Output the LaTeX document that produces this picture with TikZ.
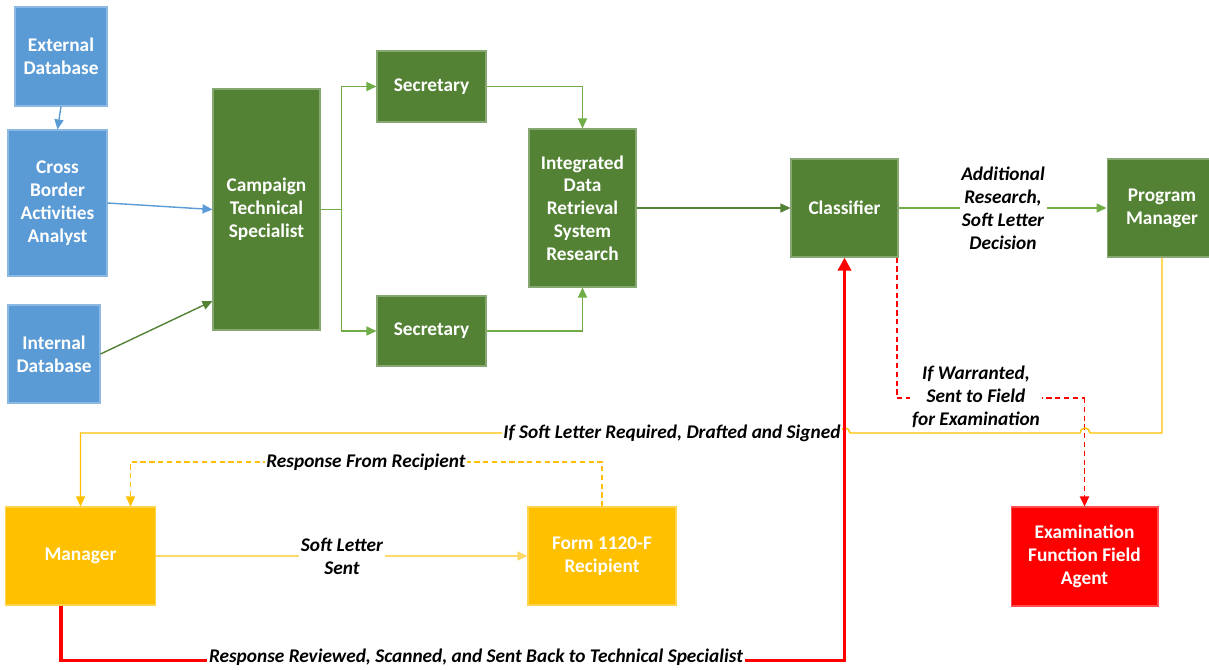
\documentclass[tikz,border=0pt]{standalone}
\usepackage{fontspec}
\setmainfont{Carlito}
\usetikzlibrary{arrows.meta,calc}
\definecolor{cblue}{HTML}{5B9BD5}
\definecolor{cdgreen}{HTML}{548235}
\definecolor{clgreen}{HTML}{70AD47}
\definecolor{cyellow}{HTML}{FFC000}
\definecolor{clyellow}{HTML}{FFD966}
\definecolor{cred}{HTML}{FF0000}
\tikzset{
  box/.style={draw=#1!70!white, fill=#1, line width=0.6pt, text=white, align=center,
    font=\fontsize{11}{13}\selectfont\bfseries, inner sep=2pt},
  lbl/.style={fill=white, align=center, inner sep=1pt,
    font=\fontsize{11}{13}\selectfont\bfseries\itshape},
  tip/.style={-{Triangle[length=0.2cm,width=0.18cm]}},
  conn/.style={color=#1, line width=0.8pt},
  reddash/.style={color=cred, line width=1.1pt, dash pattern=on 3pt off 2pt},
}
\begin{document}
\begin{tikzpicture}[x=0.02cm,y=-0.02cm]
\useasboundingbox (0,0) rectangle (1209,669);
\clip (0,0) rectangle (1209,669);
% nodes
\node[box=cblue, minimum width=1.84cm, minimum height=1.98cm] (ext) at (61,56.5) {External\\Database};
\node[box=cblue, minimum width=1.98cm, minimum height=2.92cm] (cba) at (57.5,203) {Cross\\Border\\Activities\\Analyst};
\node[box=cblue, minimum width=1.84cm, minimum height=1.96cm] (intdb) at (54,354) {Internal\\Database};
\node[box=cdgreen, minimum width=2.14cm, minimum height=4.82cm] (cts) at (266.5,209.5) {Campaign\\Technical\\Specialist};
\node[box=cdgreen, minimum width=2.18cm, minimum height=1.42cm] (sec1) at (431.5,86.5) {Secretary};
\node[box=cdgreen, minimum width=2.18cm, minimum height=1.40cm] (sec2) at (431.5,331) {Secretary};
\node[box=cdgreen, minimum width=2.14cm, minimum height=3.16cm] (idrs) at (582.5,208) {Integrated\\Data\\Retrieval\\System\\Research};
\node[box=cdgreen, minimum width=2.14cm, minimum height=1.96cm] (cls) at (844.5,208) {Classifier};
\node[box=cdgreen, minimum width=2.20cm, minimum height=1.96cm] (pm) at (1162,208) {Program\\Manager};
\node[box=cyellow, minimum width=3.00cm, minimum height=1.96cm] (mgr) at (80.5,556) {Manager};
\node[box=cyellow, minimum width=2.96cm, minimum height=1.96cm] (form) at (602,556) {Form 1120-F\\Recipient};
\node[box=cred, minimum width=2.94cm, minimum height=1.98cm] (exam) at (1084.5,556.5) {Examination\\Function Field\\Agent};
% blue connectors
\draw[conn=cblue, tip] (ext.south) -- (cba.north);
\draw[conn=cblue, tip] (cba.east) -- (cts.west);
\draw[conn=cdgreen, tip] (intdb.east) -- ([yshift=-1.83cm]cts.west);
% green branch
\draw[conn=clgreen] (cts.east) -- ++(21,0) coordinate (br);
\draw[conn=clgreen, tip] (br) |- (sec1.west);
\draw[conn=clgreen, tip] (br) |- (sec2.west);
\draw[conn=clgreen, tip] (sec1.east) -| (idrs.north);
\draw[conn=clgreen, tip] (sec2.east) -| (idrs.south);
\draw[conn=cdgreen, tip] (idrs.east) -- (cls.west);
\draw[conn=clgreen, tip] (cls.east) -- (pm.west);
\node[lbl] (lbladd) at (1003,208.5) {Additional\\Research,\\Soft Letter\\Decision};
% red dashed
\coordinate (rs) at ([xshift=-0.03cm]cls.south east);
\coordinate (rd) at ($(rs)+(0,140.5)$);
\draw[reddash] (rs) -- (rd);
\draw[reddash] (rd) -- (rd -| exam.north);
\draw[reddash, tip] (rd -| exam.north) -- (exam.north);
\node[lbl] (lblwar) at (976,397) {If Warranted,\\Sent to Field\\for Examination};
% yellow from program manager
\draw[conn=cyellow, tip] (pm.south) -- (1162,433) -- (1090,433)
   arc[start angle=0,end angle=180,radius=0.1cm] -- (850,433)
   arc[start angle=0,end angle=180,radius=0.1cm] -- (mgr.north |- 0,433) -- (mgr.north);
\node[lbl] (lblsoft) at (672,433) {If Soft Letter Required, Drafted and Signed};
% response from recipient
\draw[conn=cyellow, dash pattern=on 3pt off 2pt, tip] (form.north) -- (form.north |- 0,462) -| ([xshift=1cm]mgr.north);
\node[lbl] (lblresp) at (366,462) {Response From Recipient};
% soft letter sent
\draw[conn=clyellow, tip] (mgr.east) -- (form.west);
\node[lbl] (lblsent) at (342,556) {Soft Letter\\Sent};
% red thick
\draw[color=cred, line width=2.1pt, -{Triangle[length=0.26cm,width=0.26cm]}] ([xshift=-0.39cm]mgr.south) -- ++(0,55) -| (cls.south);
\node[lbl] (lblrev) at (476,657) {Response Reviewed, Scanned, and Sent Back to Technical Specialist};
\end{tikzpicture}
\end{document}
